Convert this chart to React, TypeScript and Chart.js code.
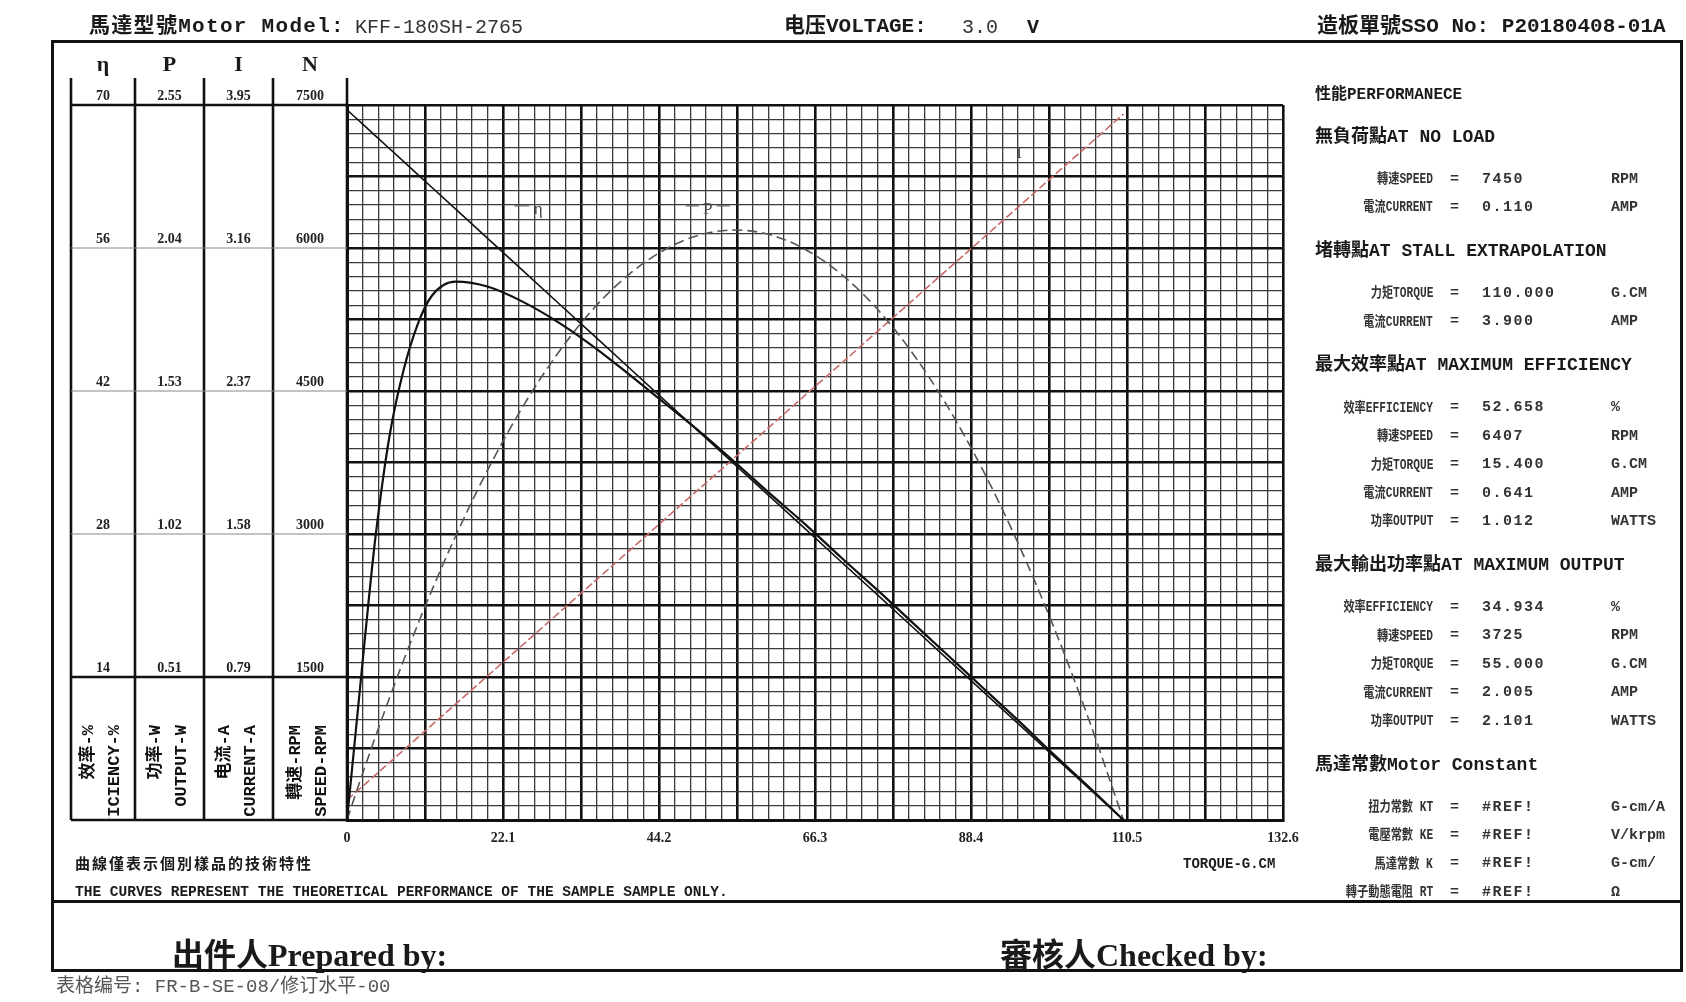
import React, { useEffect, useRef } from "react";
import { Chart, registerables } from "chart.js";

Chart.register(...registerables);

// ---------------- data ----------------
const torqueGcm = [0, 0.5, 1, 2, 3, 4, 6, 8, 10, 12, 15.4, 20, 25, 30, 35, 40, 45, 50, 55, 60, 65, 70, 75, 80, 85, 90, 95, 100, 105, 110];
const speedRpm = [7450, 7416, 7382, 7315, 7247, 7179, 7044, 6908, 6773, 6637, 6407, 6096, 5757, 5418, 5080, 4741, 4402, 4064, 3725, 3386, 3048, 2709, 2371, 2032, 1693, 1355, 1016, 677, 339, 0];
const currentA = [0.11, 0.127, 0.145, 0.179, 0.213, 0.248, 0.317, 0.386, 0.455, 0.524, 0.641, 0.799, 0.971, 1.144, 1.316, 1.488, 1.661, 1.833, 2.005, 2.177, 2.35, 2.522, 2.694, 2.866, 3.039, 3.211, 3.383, 3.556, 3.728, 3.9];
const outputW = [0, 0.038, 0.076, 0.15, 0.223, 0.295, 0.434, 0.568, 0.696, 0.818, 1.013, 1.252, 1.478, 1.669, 1.826, 1.947, 2.034, 2.087, 2.104, 2.087, 2.034, 1.947, 1.826, 1.669, 1.478, 1.252, 0.991, 0.696, 0.365, 0];
const efficiencyPct = [0, 3.5, 7.0, 14.0, 21.0, 27.5, 37.5, 44.0, 48.5, 51.3, 52.7, 52.2, 50.7, 48.7, 46.3, 43.6, 40.8, 38.0, 35.0, 31.9, 28.9, 25.7, 22.6, 19.4, 16.2, 13.0, 9.8, 6.5, 3.3, 0];

const xTickLabels = ["0", "22.1", "44.2", "66.3", "88.4", "110.5", "132.6"];
const tableHeaders = ["η", "P", "I", "N"];
const effTicks = ["70", "56", "42", "28", "14"];
const powerTicks = ["2.55", "2.04", "1.53", "1.02", "0.51"];
const currentTicks = ["3.95", "3.16", "2.37", "1.58", "0.79"];
const speedTicks = [7500, 6000, 4500, 3000, 1500];
const unitCn = ["效率-%", "功率-W", "电流-A", "轉速-RPM"];
const unitEn = ["EFFICIENCY-%", "OUTPUT-W", "CURRENT-A", "SPEED-RPM"];

const curveLabels = ["η", "P", "I"];
const curveLabelTorque = [27.1, 51.1, 95.2];
const curveLabelSpeed = [6400, 6400, 6990];

const panelTitle = "性能PERFORMANECE";
const sectionTitles = [
  "無負荷點AT NO LOAD",
  "堵轉點AT STALL EXTRAPOLATION",
  "最大效率點AT MAXIMUM EFFICIENCY",
  "最大輸出功率點AT MAXIMUM OUTPUT",
  "馬達常數Motor Constant",
];
const sectionLabels = [
  ["轉速SPEED", "電流CURRENT"],
  ["力矩TORQUE", "電流CURRENT"],
  ["效率EFFICIENCY", "轉速SPEED", "力矩TORQUE", "電流CURRENT", "功率OUTPUT"],
  ["效率EFFICIENCY", "轉速SPEED", "力矩TORQUE", "電流CURRENT", "功率OUTPUT"],
  ["扭力常數 KT", "電壓常數 KE", "馬達常數 K", "轉子動態電阻 RT"],
];
const sectionValues = [
  ["7450", "0.110"],
  ["110.000", "3.900"],
  ["52.658", "6407", "15.400", "0.641", "1.012"],
  ["34.934", "3725", "55.000", "2.005", "2.101"],
  ["#REF!", "#REF!", "#REF!", "#REF!"],
];
const sectionUnits = [
  ["RPM", "AMP"],
  ["G.CM", "AMP"],
  ["%", "RPM", "G.CM", "AMP", "WATTS"],
  ["%", "RPM", "G.CM", "AMP", "WATTS"],
  ["G-cm/A", "V/krpm", "G-cm/", "Ω"],
];

// ---------------- styling ----------------
const W = 1686;
const H = 1002;
const MONO = '"Liberation Mono", "DejaVu Sans Mono", "Noto Sans CJK SC", monospace';
const SERIF = '"Liberation Serif", "Noto Sans CJK SC", serif';
const INK = "#1a1a1a";

const PLOT = { left: 347, top: 105, right: 1283, bottom: 820 };
const COL_EDGES = [71, 135, 204, 273];

function line(ctx: CanvasRenderingContext2D, x1: number, y1: number, x2: number, y2: number) {
  ctx.beginPath();
  ctx.moveTo(x1, y1);
  ctx.lineTo(x2, y2);
  ctx.stroke();
}

const tablePlugin = {
  id: "motorTable",
  afterDraw(chart: any) {
    const ctx: CanvasRenderingContext2D = chart.ctx;
    const yN = chart.scales.yN;
    const area = chart.chartArea;
    const edges = [...COL_EDGES, area.left];
    const topY = 78;
    ctx.save();
    ctx.strokeStyle = "#111";
    ctx.lineWidth = 2.6;
    edges.forEach((x) => line(ctx, x, topY, x, area.bottom));
    speedTicks.forEach((v, k) => {
      const y = yN.getPixelForValue(v);
      const thick = k === 0 || k === speedTicks.length - 1;
      ctx.lineWidth = thick ? 2.6 : 1;
      ctx.strokeStyle = thick ? "#111" : "#888";
      line(ctx, edges[0], y, area.left, y);
    });
    ctx.lineWidth = 2.6;
    ctx.strokeStyle = "#111";
    line(ctx, edges[0], area.bottom, area.left, area.bottom);

    // headers
    ctx.fillStyle = INK;
    ctx.textAlign = "center";
    ctx.textBaseline = "middle";
    ctx.font = `bold 22px ${SERIF}`;
    tableHeaders.forEach((h, i) => {
      const cx = (edges[i] + edges[i + 1]) / 2;
      ctx.fillText(h, cx, 65);
    });

    // value labels
    const cols = [effTicks, powerTicks, currentTicks, speedTicks.map(String)];
    ctx.font = `bold 14px ${SERIF}`;
    ctx.fillStyle = "#222";
    cols.forEach((vals, i) => {
      const cx = (edges[i] + edges[i + 1]) / 2;
      vals.forEach((t, k) => {
        const y = yN.getPixelForValue(speedTicks[k]);
        ctx.fillText(t, cx, y - 9);
      });
    });

    // rotated unit labels
    const clipTop = yN.getPixelForValue(speedTicks[speedTicks.length - 1]) + 2;
    ctx.save();
    ctx.beginPath();
    ctx.rect(edges[0], clipTop, area.left - edges[0], area.bottom - clipTop - 2);
    ctx.clip();
    ctx.font = `bold 17px ${MONO}`;
    ctx.fillStyle = "#111";
    ctx.textAlign = "right";
    unitCn.forEach((cn, i) => {
      const cx = (edges[i] + edges[i + 1]) / 2;
      [cn, unitEn[i]].forEach((t, j) => {
        ctx.save();
        ctx.translate(cx + (j === 0 ? -14 : 12), clipTop + 46);
        ctx.rotate(-Math.PI / 2);
        ctx.fillText(t, 0, 0);
        ctx.restore();
      });
    });
    ctx.restore();

    // curve labels
    const x = chart.scales.x;
    ctx.font = `17px ${SERIF}`;
    ctx.fillStyle = "#444";
    ctx.strokeStyle = "#666";
    ctx.lineWidth = 1.2;
    ctx.textAlign = "center";
    curveLabels.forEach((t, i) => {
      const px = x.getPixelForValue(curveLabelTorque[i]);
      const py = yN.getPixelForValue(curveLabelSpeed[i]);
      ctx.fillText(t, px, py);
      if (i === 0) line(ctx, px - 24, py - 4, px - 9, py - 4);
      if (i === 1) {
        line(ctx, px - 22, py - 4, px - 9, py - 4);
        line(ctx, px + 9, py - 4, px + 22, py - 4);
      }
    });
    ctx.restore();
  },
};

function pts(ys: number[]) {
  return torqueGcm.map((t, i) => ({ x: t, y: ys[i] }));
}

function Txt(props: {
  x: number;
  y: number;
  size: number;
  children: React.ReactNode;
  weight?: number;
  align?: "left" | "right";
  color?: string;
  family?: string;
  style?: React.CSSProperties;
}) {
  const { x, y, size, children, weight = 700, align = "left", color = INK, family = MONO, style } = props;
  const lh = Math.round(size * 1.25);
  const pos: React.CSSProperties = align === "right" ? { right: W - x } : { left: x };
  return (
    <div
      style={{
        position: "absolute",
        top: y - lh / 2,
        ...pos,
        fontSize: size,
        lineHeight: `${lh}px`,
        fontWeight: weight,
        color,
        fontFamily: family,
        whiteSpace: "nowrap",
        ...style,
      }}
    >
      {children}
    </div>
  );
}

function Panel() {
  const items: React.ReactNode[] = [];
  let y = 95;
  items.push(
    <Txt key="pt" x={1315} y={y} size={16}>
      {panelTitle}
    </Txt>
  );
  let prev: "h" | "r" = "h";
  sectionTitles.forEach((title, s) => {
    y += prev === "h" ? 42 : 44;
    items.push(
      <Txt key={`h${s}`} x={1315} y={y} size={18}>
        {title}
      </Txt>
    );
    prev = "h";
    sectionLabels[s].forEach((lab, r) => {
      y += prev === "h" ? 42 : 28.4;
      prev = "r";
      items.push(
        <Txt
          key={`l${s}-${r}`}
          x={1433}
          y={y}
          size={14}
          align="right"
          color="#333"
          style={{ transform: "scaleX(0.8)", transformOrigin: "right center" }}
        >
          {lab}
        </Txt>,
        <Txt key={`e${s}-${r}`} x={1450} y={y} size={15} color="#333">
          =
        </Txt>,
        <Txt key={`v${s}-${r}`} x={1482} y={y} size={15} color="#333" style={{ letterSpacing: 1.5 }}>
          {sectionValues[s][r]}
        </Txt>,
        <Txt key={`u${s}-${r}`} x={1611} y={y} size={15} color="#333">
          {sectionUnits[s][r]}
        </Txt>
      );
    });
  });
  return <>{items}</>;
}

export default function App() {
  const canvasRef = useRef<HTMLCanvasElement>(null);

  useEffect(() => {
    const canvas = canvasRef.current;
    if (!canvas) return;
    const gridColor = (ctx: any) => (ctx.index % 5 === 0 ? "#111" : "#3a3a3a");
    const gridWidth = (ctx: any) => (ctx.index % 5 === 0 ? 2.6 : 1.3);
    const chart = new Chart(canvas, {
      type: "scatter",
      data: {
        datasets: [
          {
            label: "N",
            data: pts(speedRpm),
            yAxisID: "yN",
            showLine: true,
            borderColor: "#111",
            borderWidth: 1.6,
            pointRadius: 0,
          },
          {
            label: "η",
            data: pts(efficiencyPct),
            yAxisID: "yEta",
            showLine: true,
            borderColor: "#111",
            borderWidth: 2.2,
            pointRadius: 0,
            cubicInterpolationMode: "monotone",
          },
          {
            label: "P",
            data: pts(outputW),
            yAxisID: "yP",
            showLine: true,
            borderColor: "#555",
            borderWidth: 1.6,
            borderDash: [10, 5],
            pointRadius: 0,
            cubicInterpolationMode: "monotone",
          },
          {
            label: "I",
            data: pts(currentA),
            yAxisID: "yI",
            showLine: true,
            borderColor: "#c86a6a",
            borderWidth: 1.6,
            borderDash: [8, 3],
            pointRadius: 0,
          },
        ],
      } as any,
      options: {
        responsive: false,
        animation: false,
        devicePixelRatio: 1,
        layout: {
          padding: {
            left: PLOT.left,
            top: PLOT.top,
            right: W - PLOT.right,
            bottom: H - PLOT.bottom - 30,
          },
        },
        plugins: { legend: { display: false }, tooltip: { enabled: false } },
        scales: {
          x: {
            type: "linear",
            min: 0,
            max: 132.6,
            ticks: {
              stepSize: 2.21,
              autoSkip: false,
              maxRotation: 0,
              padding: 10,
              color: "#222",
              font: { family: SERIF, size: 14, weight: "bold" },
              callback: (_v: any, i: number) => (i % 10 === 0 ? xTickLabels[i / 10] : ""),
            },
            grid: { color: gridColor, lineWidth: gridWidth, drawTicks: false },
            border: { display: true, width: 3, color: "#111" },
            afterFit: (s: any) => {
              s.height = 30;
            },
          },
          yN: {
            type: "linear",
            position: "left",
            min: 0,
            max: 7500,
            ticks: { stepSize: 150, display: false },
            grid: { color: gridColor, lineWidth: gridWidth, drawTicks: false },
            border: { display: true, width: 3, color: "#111" },
            afterFit: (s: any) => {
              s.width = 0;
            },
          },
          yEta: { type: "linear", display: false, min: 0, max: 70 },
          yP: { type: "linear", display: false, min: 0, max: 2.55 },
          yI: { type: "linear", display: false, min: 0, max: 3.95 },
        },
      } as any,
      plugins: [tablePlugin],
    });
    return () => chart.destroy();
  }, []);

  return (
    <div
      style={{
        position: "absolute",
        left: 0,
        top: 0,
        width: W,
        height: H,
        background: "#fff",
        overflow: "hidden",
      }}
    >
      <canvas
        ref={canvasRef}
        width={W}
        height={H}
        style={{ position: "absolute", left: 0, top: 0, width: W, height: H }}
      />
      {/* frame */}
      <div style={{ position: "absolute", left: 51, top: 40, width: 1632, height: 3, background: "#111" }} />
      <div style={{ position: "absolute", left: 51, top: 40, width: 3, height: 932, background: "#111" }} />
      <div style={{ position: "absolute", left: 1680, top: 40, width: 3, height: 932, background: "#111" }} />
      <div style={{ position: "absolute", left: 51, top: 969, width: 1632, height: 3, background: "#111" }} />
      <div style={{ position: "absolute", left: 51, top: 900, width: 1632, height: 2.5, background: "#111" }} />

      {/* header */}
      <Txt x={89} y={27} size={21} style={{ letterSpacing: 1.3 }}>馬達型號Motor Model:</Txt>
      <Txt x={355} y={27} size={20} weight={400} color="#333">KFF-180SH-2765</Txt>
      <Txt x={784} y={27} size={21}>电压VOLTAGE:</Txt>
      <Txt x={962} y={27} size={20} weight={400} color="#333">3.0</Txt>
      <Txt x={1027} y={27} size={20}>V</Txt>
      <Txt x={1317} y={27} size={21}>造板單號SSO No: P20180408-01A</Txt>

      <Panel />

      {/* notes */}
      <Txt x={1183} y={864} size={14}>TORQUE-G.CM</Txt>
      <Txt x={75} y={864} size={15} style={{ letterSpacing: 2 }} family={SERIF}>曲線僅表示個別樣品的技術特性</Txt>
      <Txt x={75} y={892} size={14.5}>THE CURVES REPRESENT THE THEORETICAL PERFORMANCE  OF THE SAMPLE SAMPLE ONLY.</Txt>

      {/* signatures */}
      <Txt x={172} y={955} size={32} weight={700} family={SERIF}>出件人Prepared by:</Txt>
      <Txt x={1000} y={955} size={32} weight={700} family={SERIF}>審核人Checked by:</Txt>
      <Txt x={56} y={987} size={19} weight={400} color="#555">表格编号: FR-B-SE-08/修订水平-00</Txt>
    </div>
  );
}
